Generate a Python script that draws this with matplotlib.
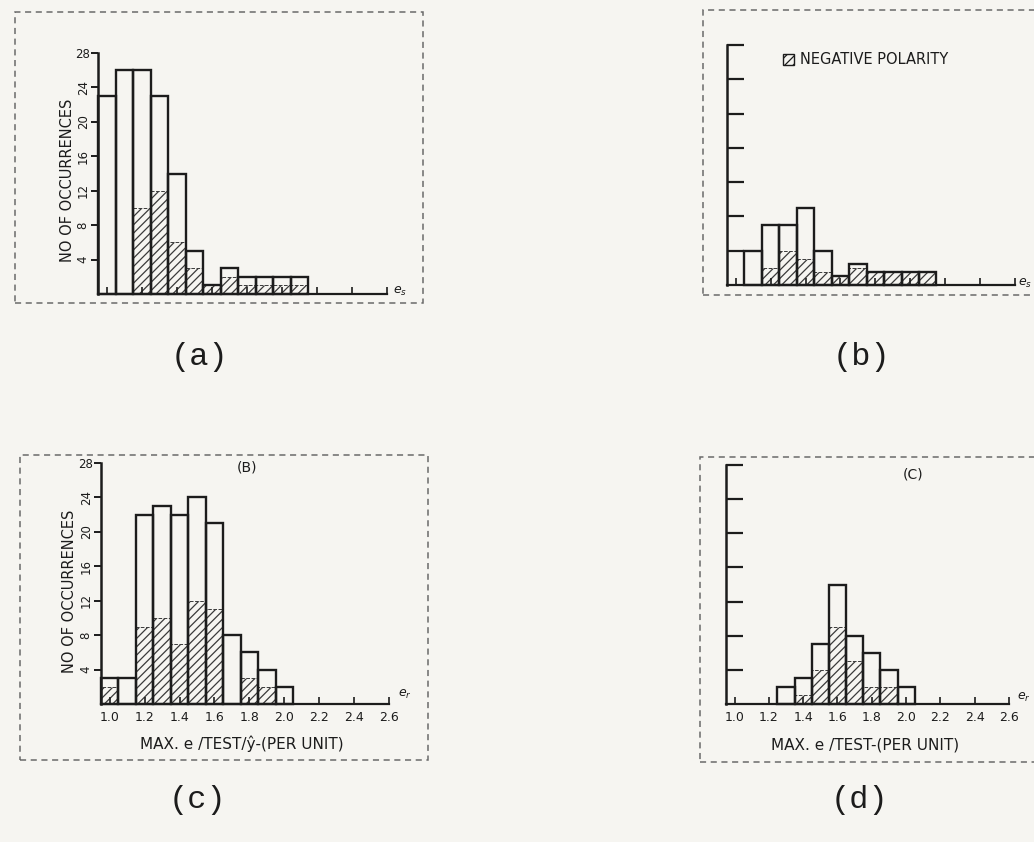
import matplotlib
matplotlib.use('Agg')
import matplotlib.pyplot as plt
from matplotlib.patches import Rectangle

W, H = 1034, 842
INK = '#1c1c1c'
BG = '#f6f5f1'

# ---- data ----
bin_centers = [1.0, 1.1, 1.2, 1.3, 1.4, 1.5, 1.6, 1.7, 1.8, 1.9, 2.0, 2.1]
a_total = [23, 26, 26, 23, 14, 5, 1, 3, 2, 2, 2, 2]
a_negative = [0, 0, 10, 12, 6, 3, 1, 2, 1, 1, 1, 1]
b_total = [0, 4, 7, 7, 9, 4, 1, 2.5, 1.5, 1.5, 1.5, 1.5]
b_negative = [0, 0, 2, 4, 3, 1.5, 1, 2, 1.5, 1.5, 1.5, 1.5]
c_total = [3, 3, 22, 23, 22, 24, 21, 8, 6, 4, 2, 0]
c_negative = [2, 0, 9, 10, 7, 12, 11, 0, 3, 2, 0, 0]
d_total = [0, 0, 0, 2, 3, 7, 14, 8, 6, 4, 2, 0]
d_negative = [0, 0, 0, 0, 1, 4, 9, 5, 2, 2, 0, 0]

y_ticks = [4, 8, 12, 16, 20, 24, 28]
x_ticks = [1.0, 1.2, 1.4, 1.6, 1.8, 2.0, 2.2, 2.4, 2.6]
x_tick_labels = ['1.0', '1.2', '1.4', '1.6', '1.8', '2.0', '2.2', '2.4', '2.6']

ylabel_text = 'NO OF OCCURRENCES'
xlabel_c = 'MAX. e /TEST/\u0177-(PER UNIT)'
xlabel_d = 'MAX. e /TEST-(PER UNIT)'
legend_text = 'NEGATIVE POLARITY'

plt.rcParams['font.family'] = ['DejaVu Sans']
plt.rcParams['hatch.linewidth'] = 0.9

fig = plt.figure(figsize=(W / 100, H / 100), dpi=100)
fig.patch.set_facecolor(BG)


def add_ax(x0, x1, y0, y1):
    return fig.add_axes([x0 / W, 1 - y1 / H, (x1 - x0) / W, (y1 - y0) / H])


def draw_panel(ax, total, negative, labelled_y, labelled_x):
    ax.set_facecolor('none')
    ax.set_xlim(0.95, 2.6)
    ax.set_ylim(0, 28)
    for s in ('top', 'right'):
        ax.spines[s].set_visible(False)
    ax.spines['left'].set_linewidth(1.8)
    ax.spines['bottom'].set_linewidth(1.6)
    ax.spines['left'].set_color(INK)
    ax.spines['bottom'].set_color(INK)

    tc = [c for c, v in zip(bin_centers, total) if v > 0]
    tv = [v for v in total if v > 0]
    nc = [c for c, v in zip(bin_centers, negative) if v > 0]
    nv = [v for v in negative if v > 0]
    ax.bar(nc, nv, width=0.1, facecolor='none', edgecolor='#3a3a3a',
           hatch='////', linewidth=0.7, linestyle='--', clip_on=False)
    ax.bar(tc, tv, width=0.1, facecolor='none', edgecolor=INK,
           linewidth=1.7, clip_on=False)

    ax.set_yticks(y_ticks)
    if labelled_y:
        ax.set_yticklabels([str(t) for t in y_ticks])
        ax.tick_params(axis='y', direction='out', length=5, width=1.4,
                       labelsize=8.5, pad=1, colors=INK)
        for lab in ax.get_yticklabels()[:-1]:
            lab.set_rotation(90)
            lab.set_va('center')
    else:
        ax.tick_params(axis='y', direction='in', length=12, width=1.6,
                       labelleft=False, colors=INK)

    ax.set_xticks(x_ticks)
    if labelled_x:
        ax.set_xticklabels(x_tick_labels)
        ax.tick_params(axis='x', direction='in', length=5, width=1.2,
                       labelsize=9, pad=5, colors=INK)
    else:
        ax.tick_params(axis='x', direction='in', length=5, width=1.2,
                       labelbottom=False, colors=INK)


ax_a = add_ax(98, 387, 53, 294)
draw_panel(ax_a, a_total, a_negative, True, False)
ax_b = add_ax(727, 1015, 45, 285)
draw_panel(ax_b, b_total, b_negative, False, False)
ax_c = add_ax(101, 389, 463, 704)
draw_panel(ax_c, c_total, c_negative, True, True)
ax_d = add_ax(726, 1009, 465, 704)
draw_panel(ax_d, d_total, d_negative, False, True)


def ftext(x, y, s, **kw):
    fig.text(x / W, 1 - y / H, s, color=INK, **kw)


# axis labels
ftext(67, 180, ylabel_text, rotation=90, ha='center', va='center', fontsize=10.5)
ftext(69, 591, ylabel_text, rotation=90, ha='center', va='center', fontsize=10.5)
ftext(242, 744, xlabel_c, ha='center', va='center', fontsize=11)
ftext(865, 745, xlabel_d, ha='center', va='center', fontsize=11)

# axis end symbols
ftext(393, 291, r'$e_s$', ha='left', va='center', fontsize=9)
ftext(1018, 283, r'$e_s$', ha='left', va='center', fontsize=9)
ftext(398, 694, r'$e_r$', ha='left', va='center', fontsize=9)
ftext(1017, 697, r'$e_r$', ha='left', va='center', fontsize=9)

# in-panel titles
ftext(247, 468, '(B)', ha='center', va='center', fontsize=10)
ftext(913, 474, '(C)', ha='center', va='center', fontsize=10)

# legend of panel (b)
fig.add_artist(Rectangle((783 / W, 1 - 65 / H), 11 / W, 11 / H,
                         transform=fig.transFigure, facecolor='none',
                         edgecolor=INK, hatch='////', linewidth=1.0))
ftext(800, 59, legend_text, ha='left', va='center', fontsize=10.5)

# panel letters (typewritten)
for x, y, s in [(199, 357, '(a)'), (862, 357, '(b)'),
                (197, 800, '(c)'), (860, 800, '(d)')]:
    fig.text(x / W, 1 - y / H, s, ha='center', va='center', fontsize=23,
             family=['Liberation Mono', 'DejaVu Sans Mono'], color=INK)

# dashed frame borders of the scanned panels
for (x0, y0, x1, y1) in [(15, 12, 423, 303), (703, 10, 1045, 295),
                         (20, 455, 428, 760), (700, 457, 1045, 762)]:
    fig.add_artist(Rectangle((x0 / W, 1 - y1 / H), (x1 - x0) / W,
                             (y1 - y0) / H, transform=fig.transFigure,
                             facecolor='none', edgecolor='#6a6a6a',
                             linewidth=1.1, linestyle=(0, (4, 3))))

fig.savefig('out.png', dpi=100, facecolor=BG)
